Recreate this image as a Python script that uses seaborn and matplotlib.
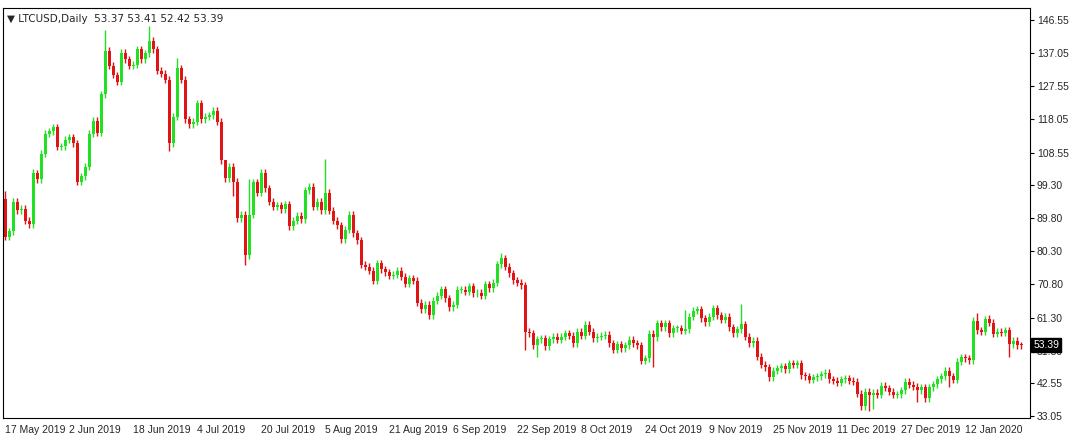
import matplotlib.pyplot as plt
import seaborn as sns
import pandas as pd
import numpy as np

# daily closes, 17 May 2019 onward
closes = [
    84.5, 86, 94.5, 92, 92.5, 89, 88, 102.6, 100.9, 108.3, 114, 114.7, 115.8, 110.2, 110.4, 112.3,
    113, 111.2, 100.2, 101.8, 104.5, 113.9, 117.7, 114.3, 125.3, 137.7, 133.5, 130.8, 128.9, 137.2,
    135.3, 133.4, 133.7, 138.2, 135.3, 137, 140.6, 138.2, 132, 131.1, 129.4, 111.2, 118.8, 132.7,
    129.5, 118.1, 116.7, 117.4, 122.7, 118.1, 118.8, 119.2, 120.6, 117.4, 106.4, 101.2, 104.5, 100.2,
    89.7, 90.7, 79.2, 90.7, 100, 97,
    102.8, 98.3, 94.5, 93.1, 93.5, 92.3, 93.8, 87.5, 89, 90.4, 89.4, 97.8, 98.8, 93.1, 94.5, 92.1,
    97.1, 91.9, 89.1, 87.8, 83.7, 86.4, 90.7, 85.4, 83.5, 76.4, 75.9, 74.7, 71.9, 76.8, 75.1, 74.2,
    73.2, 73.5, 74.7, 73, 70.9, 72.5, 71.9, 65.5, 63.6, 64.9, 62, 66.1, 67.5, 69.4, 66.8, 64.2,
    64.9, 69.2, 69.2, 68.7, 70.3, 68.2, 68.4, 67.5, 70.9, 69.7, 71.3, 76.6, 78.3, 75.9, 74, 72,
    71.3, 70.6, 57.2,
    56.8, 53.4, 55.1, 55.3, 53, 55.1, 55.8, 54.9, 55.8, 56.8, 56.1, 53.9, 57.2, 56.1, 59.2, 57.2,
    55.3, 55.8, 56.1, 56.3, 53.9, 52, 53.7, 52.5, 53.4, 54.9, 53.9, 53.4, 48.9, 49.6, 56.6, 55.6,
    59.6, 58.5, 59.6, 56.8, 58.2, 58.2, 57.5, 57.9, 61.5, 63.3, 63.6, 61.1, 59.9, 61.5, 63.9, 62,
    60.6, 61.5, 58.5, 56.8, 57.9, 59.4, 55.8, 53.9, 54.7, 50.1, 47.7, 47, 44.2, 46.1, 46.8,
    47.4, 46.4, 48.2, 47.7, 48.2, 44.8, 44.5, 43.4, 44.2, 44.5, 45.1, 45.5, 43.6, 43.2, 42.6, 43.6,
    43.9, 43.2, 42.9, 39.4, 35.9, 40, 39.1, 39.8, 39.1, 41.7, 41.2, 40, 39.1, 39.3, 40.5, 42.9,
    42, 41.5, 40.5, 41.3, 38.1, 41.3, 42.2, 43.6, 44.5, 46.1, 44.5, 43.4, 48.6, 49.9, 49.6, 49.1,
    60.4, 57.7, 57.2, 60.8, 59.8, 56.6, 57.2, 56.9, 57.7, 53.7, 54.7, 53.4, 53.39,
]
first_open = 95.4
# notable wick extremes (candle index: price)
spike_highs = {0: 97.5, 7: 104, 25: 143.7, 36: 144.8, 43: 135.6, 80: 106.6, 124: 79.9,
               55: 106, 61: 101, 170: 63.5, 184: 65.2, 243: 62.5, 246: 62, 221: 42}
spike_lows = {41: 109, 60: 76.3, 57: 96, 130: 52, 162: 47.2, 216: 34.5, 217: 35, 228: 37,
              236: 41.5, 251: 50, 133: 50}
price_ticks = [33.05, 42.55, 51.80, 61.30, 70.80, 80.30, 89.80, 99.30, 108.55, 118.05,
               127.55, 137.05, 146.55]

dates = pd.date_range("2019-05-17", periods=len(closes), freq="D")
opens = [first_open] + closes[:-1]
df = pd.DataFrame({"date": dates, "open": opens, "close": closes})
df["high"] = df[["open", "close"]].max(axis=1) + 1.0
df["low"] = df[["open", "close"]].min(axis=1) - 1.0
for i, v in spike_highs.items():
    df.loc[i, "high"] = v
for i, v in spike_lows.items():
    df.loc[i, "low"] = v

sns.set_style("white")
plt.rcParams['font.family'] = ['Liberation Sans', 'DejaVu Sans']

fig = plt.figure(figsize=(10.78, 4.46), dpi=100)
ax = fig.add_axes([3 / 1078, 28 / 446, 1027 / 1078, 410 / 446])

green, red = '#22e022', '#e01414'
x = np.arange(len(df))
up = df["close"] >= df["open"]
colors = np.where(up, green, red)
ax.vlines(x, df["low"], df["high"], colors=colors, linewidth=1)
body_lo = df[["open", "close"]].min(axis=1)
body_h = (df["close"] - df["open"]).abs().clip(lower=0.25)
ax.bar(x, body_h, bottom=body_lo, width=0.75, color=colors, linewidth=0)

ax.set_xlim(-0.5, 256.2)
ax.set_ylim(32.5, 150.0)
ax.yaxis.tick_right()
ax.set_yticks(price_ticks)
ax.set_yticklabels([f"{t:.2f}" for t in price_ticks], fontsize=7.5)
xt = x[::16]
ax.set_xticks(xt)
ax.set_xticklabels([d.strftime("%-d %b %Y") for d in dates[::16]], fontsize=7.5, ha='left')
ax.tick_params(axis='both', length=3, width=0.8, color='black', pad=2)
for s in ax.spines.values():
    s.set_color('black')
    s.set_linewidth(0.8)

ax.text(0.004, 0.985, "▼ LTCUSD,Daily  53.37 53.41 52.42 53.39", transform=ax.transAxes,
        fontsize=7.5, va='top', ha='left', family=['DejaVu Sans'])
ax.text(1.003, 53.39, "53.39", transform=ax.get_yaxis_transform(), fontsize=7.5, va='center',
        ha='left', color='white', zorder=10, clip_on=False,
        bbox=dict(boxstyle='square,pad=0.2', fc='black', ec='black'))

fig.savefig("out.png", dpi=100)
